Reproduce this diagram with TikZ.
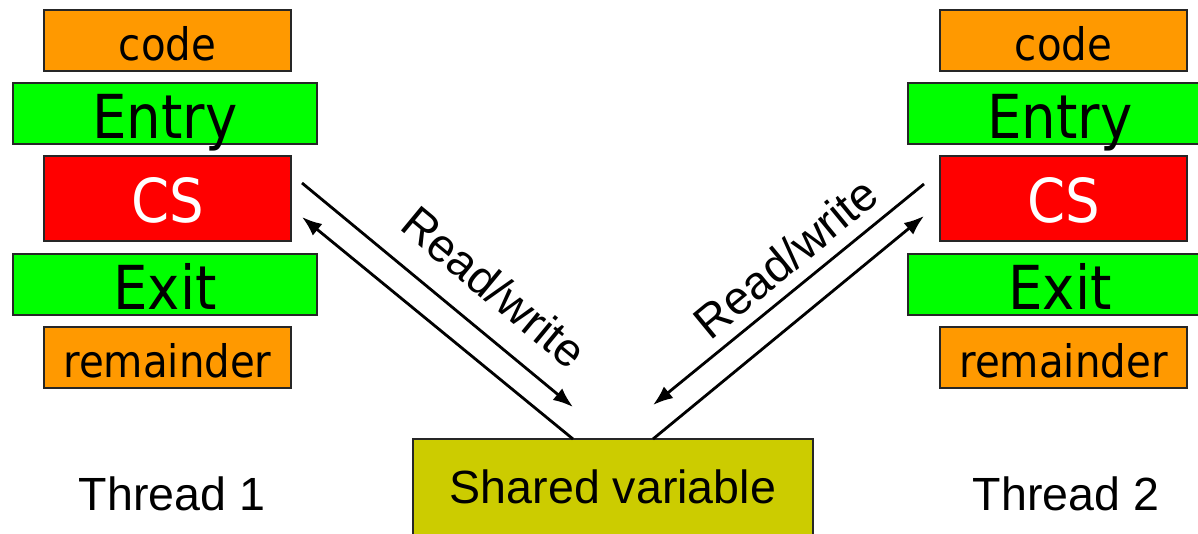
\documentclass[tikz,border=0pt]{standalone}
\usepackage{fontspec}
\setmainfont{Liberation Sans}
\newfontfamily\boxfont{DejaVu Sans Condensed}
\usetikzlibrary{positioning,arrows.meta}
\definecolor{codeorange}{HTML}{FF9900}
\definecolor{gategreen}{HTML}{00FF00}
\definecolor{csred}{HTML}{FF0000}
\definecolor{sharedolive}{HTML}{CCCC00}
\tikzset{
  blk/.style={draw=black!85,line width=1pt,inner sep=0pt,outer sep=0pt,minimum height=1.22cm,text depth=0pt},
  codebox/.style={blk,fill=codeorange,minimum width=4.94cm,text height=23pt,font=\boxfont\fontsize{25.5}{28}\selectfont},
  gatebox/.style={blk,fill=gategreen,minimum width=6.08cm,text height=28pt,font=\boxfont\fontsize{34.5}{38}\selectfont},
  csbox/.style={blk,fill=csred,minimum width=4.94cm,minimum height=1.7cm,text height=27pt,text=white,font=\boxfont\fontsize{34.5}{38}\selectfont},
  rw/.style={sloped,inner sep=0pt,font=\fontsize{26.5}{30}\selectfont},
  rwline/.style={line width=1.6pt,-{Latex[length=0.4cm,width=0.3cm]}},
}
\begin{document}
\begin{tikzpicture}[x=0.02cm,y=-0.02cm,node distance=0.24cm]
  \clip (0,0) rectangle (1198,534);
  \node[codebox] (code1) at (167.5,40.5) {code};
  \node[gatebox,below=of code1,xshift=-0.05cm] (entry1) {Entry};
  \node[csbox,below=of entry1,xshift=0.05cm] (cs1) {CS};
  \node[gatebox,below=0.26cm of cs1,xshift=-0.05cm] (exit1) {Exit};
  \node[codebox,below=of exit1,xshift=0.05cm] (rem1) {remainder};
  \node[codebox] (code2) at (1063.5,40.5) {code};
  \node[gatebox,below=of code2,xshift=-0.07cm] (entry2) {Entry};
  \node[csbox,below=of entry2,xshift=0.07cm] (cs2) {CS};
  \node[gatebox,below=0.26cm of cs2,xshift=-0.07cm] (exit2) {Exit};
  \node[codebox,below=of exit2,xshift=0.07cm] (rem2) {remainder};
  \node[blk,fill=sharedolive,minimum width=8cm,minimum height=2.04cm,text height=14.8pt,font=\fontsize{26.5}{30}\selectfont] (shared) at (613,490) {Shared variable};
  \node[font=\fontsize{26.5}{30}\selectfont] (thr1) at (172,494) {Thread 1};
  \node[font=\fontsize{26.5}{30}\selectfont] (thr2) at (1066,494) {Thread 2};
  \coordinate (r1) at (302,183);
  \coordinate (t1) at (573,407);
  \coordinate (t2) at (302,217);
  \coordinate (r3) at (924,184);
  \coordinate (t3) at (653,405);
  \coordinate (t4) at (924,216);
  \draw[rwline] (r1) -- node[rw,above=0.48cm,pos=0.61]{Read/write} (t1);
  \draw[rwline] ([xshift=-0.8cm]shared.north) -- (t2);
  \draw[rwline] (r3) -- (t3);
  \draw[rwline] ([xshift=0.8cm]shared.north) -- node[rw,above=0.75cm,pos=0.62]{Read/write} (t4);
\end{tikzpicture}
\end{document}
